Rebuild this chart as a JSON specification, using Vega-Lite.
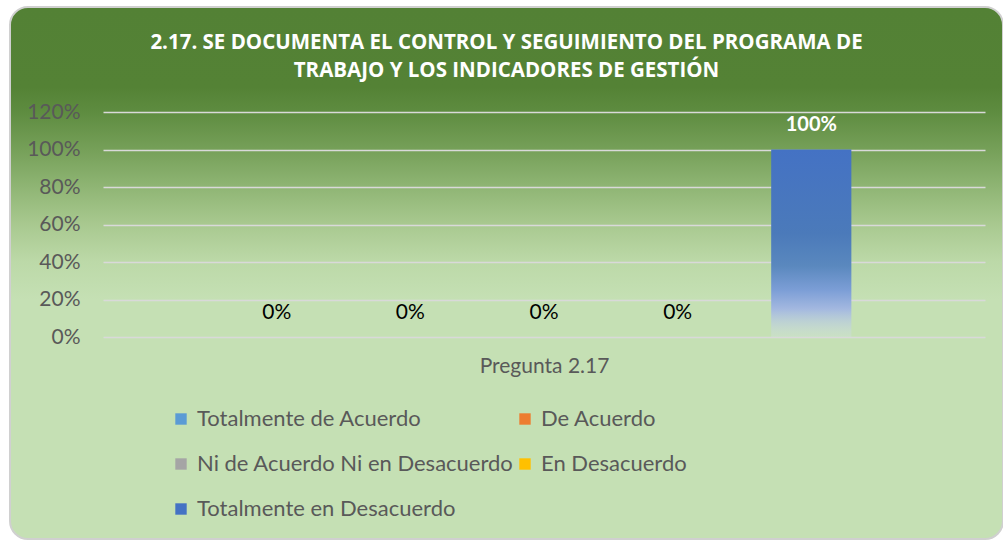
{
  "$schema": "https://vega.github.io/schema/vega-lite/v6.json",
  "autosize": {"type": "none"},
  "width": 993,
  "height": 532,
  "padding": {"left": 10, "top": 7, "right": 0, "bottom": 1},
  "background": "#ffffff",
  "view": {
    "fill": {
      "gradient": "linear", "x1": 0, "y1": 0, "x2": 0, "y2": 1,
      "stops": [
        {"offset": 0, "color": "#538135"},
        {"offset": 0.15, "color": "#548235"},
        {"offset": 0.197, "color": "#5e8c40"},
        {"offset": 0.269, "color": "#76a059"},
        {"offset": 0.338, "color": "#8fb574"},
        {"offset": 0.41, "color": "#a9c990"},
        {"offset": 0.479, "color": "#bcd9a8"},
        {"offset": 0.55, "color": "#c5e0b4"},
        {"offset": 1, "color": "#c5e0b4"}
      ]
    },
    "stroke": "#d0d0d0",
    "strokeWidth": 2,
    "cornerRadius": 18
  },
  "title": {
    "text": ["2.17. SE DOCUMENTA EL CONTROL Y SEGUIMIENTO DEL PROGRAMA DE", "TRABAJO Y LOS INDICADORES DE GESTIÓN"],
    "color": "#ffffff",
    "font": "Open Sans",
    "fontSize": 20.5,
    "fontWeight": "bold",
    "lineHeight": 27.5,
    "anchor": "middle",
    "frame": "group",
    "offset": -74
  },
  "data": {
    "values": [
      {"serie": "Totalmente de Acuerdo", "valor": 0},
      {"serie": "De Acuerdo", "valor": 0},
      {"serie": "Ni de Acuerdo Ni en Desacuerdo", "valor": 0},
      {"serie": "En Desacuerdo", "valor": 0},
      {"serie": "Totalmente en Desacuerdo", "valor": 1}
    ]
  },
  "layer": [
    {
      "mark": {"type": "bar"},
      "transform": [{"filter": "datum.valor < 1"}],
      "encoding": {
        "x": {
          "field": "serie", "type": "nominal", "sort": null, "title": "Pregunta 2.17",
          "scale": {
            "domain": ["Totalmente de Acuerdo", "De Acuerdo", "Ni de Acuerdo Ni en Desacuerdo", "En Desacuerdo", "Totalmente en Desacuerdo"],
            "range": [93, 975], "paddingInner": 0.4, "paddingOuter": 1.05, "round": false
          },
          "axis": {
            "labels": false, "ticks": false, "domain": false, "grid": false,
            "offset": -202, "titlePadding": 18, "titleFont": "Lato", "titleFontSize": 21,
            "titleFontWeight": "normal", "titleColor": "#595959"
          }
        },
        "y": {
          "field": "valor", "type": "quantitative", "title": null,
          "scale": {"domain": [0, 1.2], "range": [330, 105], "nice": false, "zero": true},
          "axis": {
            "values": [0, 0.2, 0.4, 0.6, 0.8, 1, 1.2], "format": ".0%",
            "offset": -70, "ticks": false, "tickSize": 0, "domain": false, "labelPadding": 0,
            "labelFont": "Lato", "labelFontSize": 21, "labelColor": "#595959",
            "grid": true, "gridColor": "#d9d9d9", "gridWidth": 1.5
          }
        },
        "fill": {
          "field": "serie", "type": "nominal", "sort": null,
          "scale": {
            "domain": ["Totalmente de Acuerdo", "De Acuerdo", "Ni de Acuerdo Ni en Desacuerdo", "En Desacuerdo", "Totalmente en Desacuerdo"],
            "range": ["#5B9BD5", "#ED7D31", "#A5A5A5", "#FFC000", "#4472C4"]
          },
          "legend": {
            "title": null, "orient": "none", "legendX": 160, "legendY": 401,
            "columns": 2, "direction": "horizontal", "symbolType": "square", "symbolSize": 130, "symbolStrokeWidth": 0,
            "labelFont": "Lato", "labelFontSize": 22, "labelColor": "#595959", "labelOffset": 5,
            "labelLimit": 500, "rowPadding": 23, "columnPadding": 0, "padding": 0
          }
        }
      }
    },
    {
      "mark": {
        "type": "bar",
        "color": {"gradient": "linear", "x1": 0, "y1": 0, "x2": 0, "y2": 1, "stops": [
          {"offset": 0, "color": "#4472C4"}, {"offset": 0.45, "color": "#4b7aba"}, {"offset": 0.62, "color": "#5a88be"},
          {"offset": 0.75, "color": "#7c9ed6"}, {"offset": 0.85, "color": "#a3b8e0"}, {"offset": 1, "color": "rgba(210,225,225,0.35)"}]}
      },
      "transform": [{"filter": "datum.valor >= 1"}],
      "encoding": {
        "x": {"field": "serie", "type": "nominal", "sort": null, "title": "Pregunta 2.17"},
        "y": {"field": "valor", "type": "quantitative", "title": null}
      }
    },
    {
      "mark": {"type": "text", "dy": -24.5, "baseline": "middle", "font": "Lato", "fontSize": 21, "color": "#000000"},
      "transform": [{"filter": "datum.valor < 1"}],
      "encoding": {
        "x": {"field": "serie", "type": "nominal", "sort": null, "title": "Pregunta 2.17"},
        "y": {"field": "valor", "type": "quantitative", "title": null},
        "text": {"field": "valor", "type": "quantitative", "format": ".0%"}
      }
    },
    {
      "mark": {"type": "text", "dy": -24.5, "baseline": "middle", "font": "Lato", "fontSize": 20, "fontWeight": "bold", "color": "#ffffff"},
      "transform": [{"filter": "datum.valor >= 1"}],
      "encoding": {
        "x": {"field": "serie", "type": "nominal", "sort": null, "title": "Pregunta 2.17"},
        "y": {"field": "valor", "type": "quantitative", "title": null},
        "text": {"field": "valor", "type": "quantitative", "format": ".0%"}
      }
    }
  ]
}
